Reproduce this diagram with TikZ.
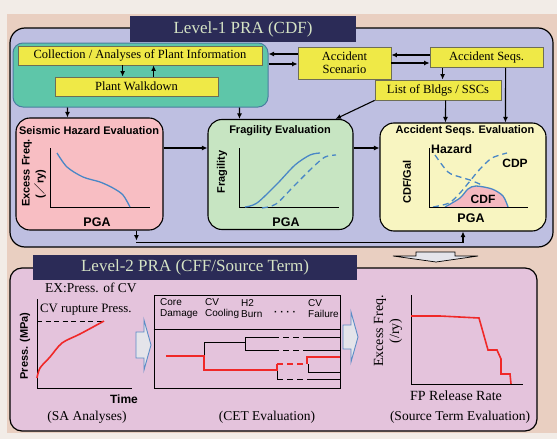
\documentclass[tikz,border=0pt]{standalone}
\usepackage{fontspec}
\setmainfont{Liberation Serif}
\setsansfont{Liberation Sans}
\newfontfamily\cjkfont{Noto Sans CJK JP}
\usetikzlibrary{calc,arrows.meta}
\newcommand\myfs[2]{\fontsize{#1pt}{#2pt}\selectfont}
\definecolor{cream}{HTML}{F2ECE7}
\definecolor{peach}{HTML}{E9CFC1}
\definecolor{lav}{HTML}{BEBFE1}
\definecolor{pinktwo}{HTML}{E4C3DC}
\definecolor{navy}{HTML}{2B2B57}
\definecolor{titletxt}{HTML}{D5E3C5}
\definecolor{tealc}{HTML}{5EC6A9}
\definecolor{tealedge}{HTML}{4A7EA0}
\definecolor{yel}{HTML}{EFE947}
\definecolor{yedge}{HTML}{6E6E55}
\definecolor{seis}{HTML}{F8BEC3}
\definecolor{fragc}{HTML}{C7E5C2}
\definecolor{accc}{HTML}{F8F5C1}
\definecolor{cblue}{HTML}{4A87C6}
\definecolor{cdfpink}{HTML}{F5B9C0}
\definecolor{redl}{HTML}{F02828}
\definecolor{hollowfill}{HTML}{E4E4EA}
\definecolor{hollowedge}{HTML}{5B8CC6}
\begin{document}
\begin{tikzpicture}[x=1pt,y=-1pt,
  ybox/.style={draw=yedge, fill=yel, line width=0.8pt, inner sep=0pt, align=center, font=\myfs{12.5}{13}},
  evbox/.style={draw=black, line width=1.1pt, rounded corners=14pt, inner sep=0pt},
  arr/.style={-{Latex[length=5.5pt,width=5pt]}, line width=1.1pt},
  btitle/.style={font=\sffamily\bfseries\myfs{11}{12}, inner sep=0pt},
  pga/.style={font=\sffamily\bfseries\myfs{12.5}{13}, inner sep=0pt},
  slbl/.style={font=\sffamily\bfseries\myfs{11}{12}, inner sep=0pt},
  serlbl/.style={font=\myfs{13.5}{15}, inner sep=0pt},
  cethead/.style={font=\sffamily\myfs{10}{11}, inner sep=0pt, anchor=west, align=left},
  axis/.style={line width=1pt, black},
  bcurve/.style={line width=1.3pt, cblue},
  dcurve/.style={line width=1.3pt, cblue, dash pattern=on 6pt off 4pt},
  redc/.style={line width=1.6pt, redl},
  thin/.style={line width=0.9pt, black},
  hollow/.style={fill=hollowfill, draw=hollowedge, line width=0.9pt},
  titlebox/.style={fill=navy, text=titletxt, inner sep=0pt, font=\myfs{17}{18}}
]
\useasboundingbox (0,0) rectangle (557,439);
\fill[cream] (0,0) rectangle (557,439);
\fill[peach] (7,14) rectangle (557,433);

% ---------------- Level 1 ----------------
\node[draw=black, fill=lav, line width=1.2pt, rounded corners=15pt, minimum width=543pt, minimum height=219pt, inner sep=0pt] (lvl1) at (281.5,137.5) {};
\node[titlebox, minimum width=226pt, minimum height=26pt] (t1) at (243,29) {Level-1 PRA (CDF)};

\node[draw=tealedge, fill=tealc, line width=1pt, rounded corners=10pt, minimum width=255pt, minimum height=64pt, inner sep=0pt] (teal) at (140.5,75) {};
\node[ybox, minimum width=244pt, minimum height=19pt] (coll) at (140,55.5) {Collection / Analyses of Plant Information};
\node[ybox, minimum width=163pt, minimum height=19pt] (walk) at (136.5,86.5) {Plant Walkdown};
\node[ybox, minimum width=93pt, minimum height=32pt] (accscen) at (344.5,63) {Accident\\Scenario};
\node[ybox, minimum width=113pt, minimum height=20pt] (accseqs) at (486.5,57.5) {Accident Seqs.};
\node[ybox, minimum width=126pt, minimum height=20pt] (list) at (438,90) {List of Bldgs / SSCs};

\node[evbox, fill=seis, minimum width=147pt, minimum height=112pt] (seismic) at (89.5,174) {};
\node[evbox, fill=fragc, minimum width=145pt, minimum height=110pt] (frag) at (280.5,174.5) {};
\node[evbox, fill=accc, minimum width=166pt, minimum height=108pt] (acceval) at (463,177) {};

% connectors level 1
\draw[arr] ($(coll.south west)+(105,0)$) -- ($(walk.north west)+(68,0)$);
\draw[arr] ($(walk.north west)+(99,0)$) -- ($(coll.south west)+(136,0)$);
\draw[arr] ($(accscen.west)+(0,-9)$) -- ($(teal.east)+(0,-21)$);
\draw[arr] ($(teal.east)+(0,-11)$) -- ($(accscen.west)+(0,1)$);
\draw[arr] ($(accseqs.west)+(0,-2.5)$) -- ($(accscen.east)+(0,-8)$);
\draw[arr] (accscen.east) -- ($(accseqs.west)+(0,5.5)$);
\draw[arr] ($(accseqs.south west)+(13,0)$) -- ($(list.north west)+(68,0)$);
\draw[arr] ($(accseqs.south west)+(76,0)$) -- ($(acceval.north west)+(126,0)$);
\draw[arr] ($(list.south west)+(71,0)$) -- ($(acceval.north west)+(66,0)$);
\draw[arr] (list.south west) -- ($(frag.north east)+(-18,0)$);
\draw[arr] ($(teal.south west)+(55,0)$) -- ($(seismic.north west)+(52,0)$);
\draw[arr] ($(teal.south west)+(227,0)$) -- ($(frag.north west)+(32,0)$);
\draw[arr] ($(seismic.east)+(0,-26)$) -- ($(frag.west)+(0,-26.5)$);
\draw[arr] ($(frag.east)+(0,-26.5)$) -- ($(acceval.west)+(0,-29)$);
\draw[arr] ($(seismic.south west)+(121,0)$) -- ++(0,10);
\draw[arr] ($(seismic.south west)+(121,12)$) -| (acceval.south);

% seismic chart
\node[btitle] (st) at (89,131) {Seismic Hazard Evaluation};
\draw[axis] (50,148) -- (50,207) -- (150,207);
\draw[bcurve] plot[smooth] coordinates {(57,153) (67,167) (83,177) (100,182) (113,188) (123,195) (130,207)};
\node[slbl, rotate=90] (sy1) at (27,173) {Excess Freq.};
\node[slbl, rotate=90] (sy2) at (40,184) {({\cjkfont ／}ry)};
\node[pga] (p1) at (97,222) {PGA};

% fragility chart
\node[btitle] (ft) at (280,131) {Fragility Evaluation};
\draw[axis] (239,148) -- (239,207) -- (339,207);
\draw[bcurve] plot[smooth] coordinates {(245,207) (257,203) (277,184) (295,165) (310,155) (320,153)};
\draw[dcurve] plot[smooth] coordinates {(262,208) (276,204) (293,187) (312,168) (325,157) (336,155)};
\node[slbl, rotate=90] (fy) at (222,172) {Fragility};
\node[pga] (p2) at (286,222) {PGA};

% accident seq chart
\node[btitle] (at) at (465,131) {Accident Seqs. Evaluation};
\fill[cdfpink] plot[smooth] coordinates {(445,207) (460,198) (468,189) (476,186) (492,189) (503,196) (508,207)} -- cycle;
\draw[bcurve] plot[smooth] coordinates {(445,207) (460,198) (468,189) (476,186) (492,189) (503,196) (508,207)};
\draw[dcurve] plot[smooth] coordinates {(435,155) (448,172) (460,177) (470,180) (482,185)};
\draw[dcurve] plot[smooth] coordinates {(433,207) (449,203) (460,193) (470,181) (480,169) (492,158) (507,153)};
\draw[axis] (429,148) -- (429,207) -- (528,207);
\node[slbl, font=\sffamily\bfseries\myfs{12.3}{13}, anchor=west] (hz) at (431,149) {Hazard};
\node[slbl, font=\sffamily\bfseries\myfs{12}{13}] (cdp) at (515,163) {CDP};
\node[slbl, font=\sffamily\bfseries\myfs{12}{13}] (cdf) at (483,199) {CDF};
\node[slbl, rotate=90] (cy) at (407,182) {CDF/Gal};
\node[pga] (p3) at (471,218) {PGA};

% down arrow between levels
\draw[fill=hollowfill, draw=black, line width=0.7pt] (416,252) -- (455,252) -- (455,256) -- (478,256) -- (436,262) -- (393,256) -- (416,256) -- cycle;

% ---------------- Level 2 ----------------
\node[draw=black, fill=pinktwo, line width=1.2pt, rounded corners=12pt, minimum width=527pt, minimum height=163pt, inner sep=0pt] (lvl2) at (273.5,349.5) {};
\node[titlebox, minimum width=324pt, minimum height=25pt] (t2) at (195,267.5) {Level-2 PRA (CFF/Source Term)};

% SA chart
\node[serlbl, anchor=west] (ex) at (45,288) {EX:Press. of CV};
\node[serlbl, font=\myfs{12.8}{14}, anchor=west] (cvr) at (40,310) {CV rupture Press.};
\draw[axis] (37,299) -- (37,388) -- (132,388);
\draw[line width=1pt, dash pattern=on 5pt off 3.5pt] (37,321) -- (104,321);
\draw[redc] plot[smooth] coordinates {(37,378) (40,368) (50,357) (62,343) (80,334) (104,321)};
\node[slbl, rotate=90] (py) at (25,346) {Press. (MPa)};
\node[slbl, font=\sffamily\bfseries\myfs{12}{13}] (tm) at (124,399) {Time};
\node[serlbl] (sa) at (87,417) {(SA Analyses)};

\draw[hollow] (136,332) -- (144,332) -- (144,320) -- (151,345) -- (144,370) -- (144,358) -- (136,358) -- cycle;

% CET
\node[draw=black, line width=1pt, minimum width=186pt, minimum height=93pt, inner sep=0pt] (cet) at (247,341.5) {};
\draw[line width=1pt] ($(cet.north west)+(0,35)$) -- ($(cet.north east)+(0,35)$);
\node[cethead] (h1) at (160,308.5) {Core\\Damage};
\node[cethead] (h2) at (205,308.5) {CV\\Cooling};
\node[cethead] (h3) at (241,308.5) {H2\\Burn};
\node[cethead, font=\sffamily\bfseries\myfs{10}{11}] (h4) at (274,313) {· · · ·};
\node[cethead] (h5) at (308,308.5) {CV\\Failure};
% tree black
\draw[thin] (204,356) -- (204,342) -- (245,342);
\draw[thin] (245,337) -- (245,350);
\draw[thin] (245,337) -- (273,337);
\draw[thin, dash pattern=on 6pt off 4pt] (273,337) -- (307,337);
\draw[thin] (307,337) -- (340,337);
\draw[thin] (245,350) -- (273,350);
\draw[thin, dash pattern=on 6pt off 4pt] (273,350) -- (307,350);
\draw[thin] (307,350) -- (340,350);
\draw[thin] (308,364) -- (308,372) -- (340,372);
\draw[thin] (277,370) -- (277,379);
\draw[thin, dash pattern=on 6pt off 4pt] (277,379) -- (307,379);
\draw[thin] (307,379) -- (340,379);
% tree red
\draw[redc, line width=2pt] (166,356) -- (204,356) -- (204,370) -- (277,370) -- (277,364);
\draw[redc, dash pattern=on 6pt off 4pt] (277,364) -- (307,364);
\draw[redc, line width=2pt] (307,364) -- (307,357) -- (340,357);
\node[serlbl] (cetl) at (267,417) {(CET Evaluation)};

\draw[hollow] (343,325) -- (351,325) -- (351,312) -- (358,337) -- (351,362) -- (351,349) -- (343,349) -- cycle;

% Source term chart
\draw[axis] (411,295) -- (411,384) -- (523,384);
\draw[redc] (411,316) -- (440,316) -- (479,318) -- (488,350) -- (497,350) -- (501,359) -- (501,374) -- (510,374) -- (511,384);
\node[serlbl, font=\myfs{14}{16}, rotate=90, align=center] (ey) at (388,331) {Excess Freq.\\(/ry)};
\node[serlbl, font=\myfs{14}{15}] (fp) at (456,396) {FP Release Rate};
\node[serlbl] (stl) at (460,417) {(Source Term Evaluation)};
\end{tikzpicture}
\end{document}
